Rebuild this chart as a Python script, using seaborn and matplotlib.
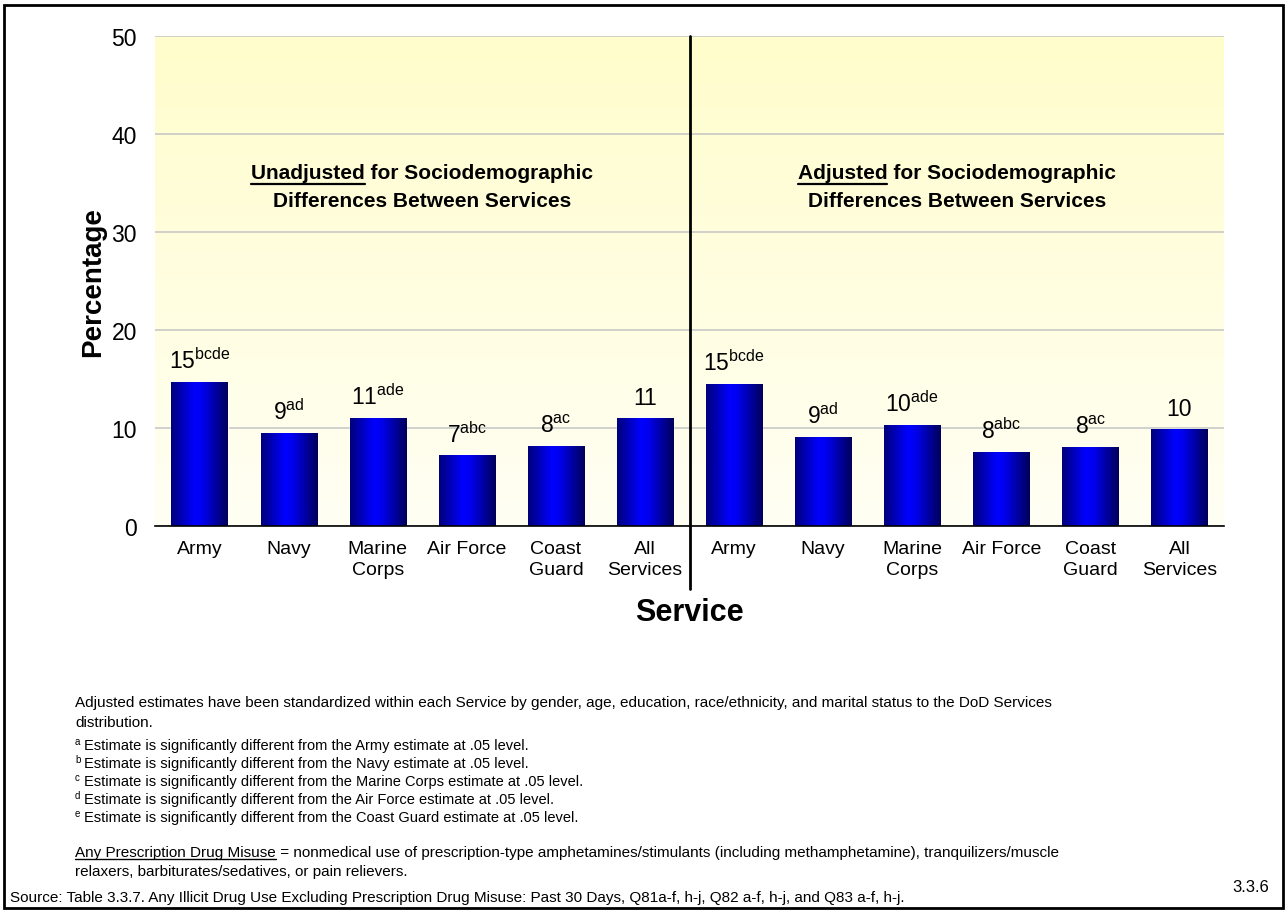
#!/usr/bin/env python3
"""
    Any prescription drug misuse by Service, unadjusted vs adjusted (figure 3.3.6)
"""
import numpy as np
import pandas as pd
import matplotlib
matplotlib.use("Agg")
import matplotlib.pyplot as plt
import seaborn as sns
from matplotlib.colors import LinearSegmentedColormap
from matplotlib.patches import Rectangle

# ---- data ----
services = ["Army", "Navy", "Marine\nCorps", "Air Force", "Coast\nGuard", "All\nServices"]
unadjusted = [14.7, 9.5, 11.0, 7.2, 8.2, 11.0]
adjusted = [14.5, 9.1, 10.3, 7.55, 8.1, 9.9]
unadj_labels = ["15", "9", "11", "7", "8", "11"]
adj_labels = ["15", "9", "10", "8", "8", "10"]
unadj_sup = ["bcde", "ad", "ade", "abc", "ac", ""]
adj_sup = ["bcde", "ad", "ade", "abc", "ac", ""]
y_ticks = [0, 10, 20, 30, 40, 50]

footnotes = [
    ("a", "Estimate is significantly different from the Army estimate at .05 level."),
    ("b", "Estimate is significantly different from the Navy estimate at .05 level."),
    ("c", "Estimate is significantly different from the Marine Corps estimate at .05 level."),
    ("d", "Estimate is significantly different from the Air Force estimate at .05 level."),
    ("e", "Estimate is significantly different from the Coast Guard estimate at .05 level."),
]

frame = pd.DataFrame({
    "slot": [f"U{i}" for i in range(6)] + [f"A{i}" for i in range(6)],
    "service": services + services,
    "pct": unadjusted + adjusted,
    "label": unadj_labels + adj_labels,
    "sup": unadj_sup + adj_sup,
})

sns.set_style("white")
plt.rcParams["font.family"] = ["Liberation Sans", "DejaVu Sans"]
plt.rcParams["mathtext.fontset"] = "custom"
plt.rcParams["mathtext.rm"] = "Liberation Sans"
plt.rcParams["mathtext.it"] = "Liberation Sans"
for key in ["text.color", "axes.labelcolor", "xtick.color", "ytick.color"]:
    plt.rcParams[key] = "black"

fig = plt.figure(figsize=(12.85, 9.12), dpi=100)
ax = fig.add_axes([155 / 1285, 1 - 527 / 912, (1224 - 155) / 1285, 490 / 912])

sns.barplot(data=frame, x="slot", y="pct", color="#0000ff", width=0.63,
            saturation=1, ax=ax, zorder=2)

# background: soft yellow fading towards the bottom
bg = LinearSegmentedColormap.from_list("bg", ["#fffff4", "#fffdcb"])
ax.imshow(np.linspace(0, 1, 256).reshape(-1, 1), extent=[-0.5, 11.5, 0, 50],
          origin="lower", cmap=bg, aspect="auto", zorder=0.1)

# bars: horizontal navy -> blue -> navy shading
bar_cmap = LinearSegmentedColormap.from_list(
    "bar", [(0, "#00007a"), (0.42, "#0000ff"), (0.55, "#0000f0"), (1, "#00005a")])
grad = np.linspace(0, 1, 256).reshape(1, -1)
for p in ax.patches:
    x0, y0 = p.get_x(), p.get_y()
    im = ax.imshow(grad, extent=[x0, x0 + p.get_width(), y0, y0 + p.get_height()],
                   cmap=bar_cmap, aspect="auto", zorder=2.1)
    im.set_clip_path(p)

# value labels with significance superscripts
for i, row in frame.iterrows():
    txt = row["label"] + (r"$^{\mathrm{" + row["sup"] + "}}$" if row["sup"] else "")
    ax.text(i, row["pct"] + 0.9, txt, ha="center", va="bottom", fontsize=16.5)

ax.set_xlim(-0.5, 11.5)
ax.set_ylim(0, 50)
ax.set_yticks(y_ticks)
ax.tick_params(axis="y", length=0, labelsize=16.5, pad=13)
ax.yaxis.grid(True, color="#c4c4c4", linewidth=1.1)
ax.set_axisbelow(True)

ax.set_xticks(range(12))
ax.set_xticklabels(frame["service"], fontsize=14, linespacing=1.3)
ax.tick_params(axis="x", which="major", length=0, pad=10)
ax.set_xticks(np.arange(-0.5, 12, 1), minor=True)
ax.tick_params(axis="x", which="minor", length=6, width=1, direction="out", color="black")

for side in ["top", "right", "left"]:
    ax.spines[side].set_visible(False)
ax.spines["bottom"].set_color("black")
ax.spines["bottom"].set_linewidth(1.2)

ax.set_xlabel("Service", fontsize=22, fontweight="bold", labelpad=14)
ax.set_ylabel("Percentage", fontsize=20, fontweight="bold", labelpad=4)

# divider between unadjusted / adjusted panels
ax.plot([5.5, 5.5], [1.0, -0.128], transform=ax.get_xaxis_transform(),
        color="black", linewidth=2, clip_on=False, zorder=5)

# panel headings, first word underlined
fig.canvas.draw()
renderer = fig.canvas.get_renderer()
for cx, word, rest in [(2.5, "Unadjusted", " for Sociodemographic"),
                       (8.5, "Adjusted", " for Sociodemographic")]:
    line1 = ax.text(cx, 35.5, word + rest, ha="center", va="baseline",
                    fontsize=15, fontweight="bold")
    ax.text(cx, 32.7, "Differences Between Services", ha="center", va="baseline",
            fontsize=15, fontweight="bold")
    bb = line1.get_window_extent(renderer)
    w = ax.text(0, 0, word, fontsize=15, fontweight="bold").get_window_extent(renderer)
    ax.texts[-1].remove()
    inv = ax.transData.inverted()
    (xa, ya), (xb, _) = inv.transform([(bb.x0, bb.y0 - 2), (bb.x0 + w.width, bb.y0 - 2)])
    ax.plot([xa, xb], [ya, ya], color="black", linewidth=1.6, zorder=5)

# notes below the chart (positions are baselines, px from top)
W, H = 1285, 912
fs = 11
fig.text(75 / W, 1 - 707 / H,
         "Adjusted estimates have been standardized within each Service by gender, age, "
         "education, race/ethnicity, and marital status to the DoD Services",
         fontsize=fs, va="baseline")
fig.text(75 / W, 1 - 727 / H, "distribution.", fontsize=fs, va="baseline")
for k, (letter, note) in enumerate(footnotes):
    base = 750 + 18 * k
    fig.text(75 / W, 1 - (base - 5) / H, letter, fontsize=7, va="baseline")
    fig.text(84 / W, 1 - base / H, note, fontsize=10.5, va="baseline")
t = fig.text(75 / W, 1 - 857 / H, "Any Prescription Drug Misuse", fontsize=fs,
             va="baseline")
fig.canvas.draw()
bb = t.get_window_extent(renderer)
ul = (1 - 857 / H) - 3 / H
fig.add_artist(plt.Line2D([bb.x0 / W, bb.x1 / W], [ul, ul], color="black", linewidth=1))
fig.text(bb.x1 / W, 1 - 857 / H,
         " = nonmedical use of prescription-type amphetamines/stimulants (including "
         "methamphetamine), tranquilizers/muscle", fontsize=fs, va="baseline")
fig.text(75 / W, 1 - 876 / H,
         "relaxers, barbiturates/sedatives, or pain relievers.", fontsize=fs, va="baseline")
fig.text(10 / W, 1 - 902 / H,
         "Source: Table 3.3.7. Any Illicit Drug Use Excluding Prescription Drug Misuse: "
         "Past 30 Days, Q81a-f, h-j, Q82 a-f, h-j, and Q83 a-f, h-j.",
         fontsize=11, va="baseline")
fig.text(1232 / W, 1 - 888 / H, "3.3.6", fontsize=12, va="center")

# outer frame
fig.add_artist(Rectangle((4 / W, 3 / H), 1279 / W, 903 / H, transform=fig.transFigure,
                         fill=False, edgecolor="black", linewidth=2))

fig.savefig("out.png", dpi=100)
